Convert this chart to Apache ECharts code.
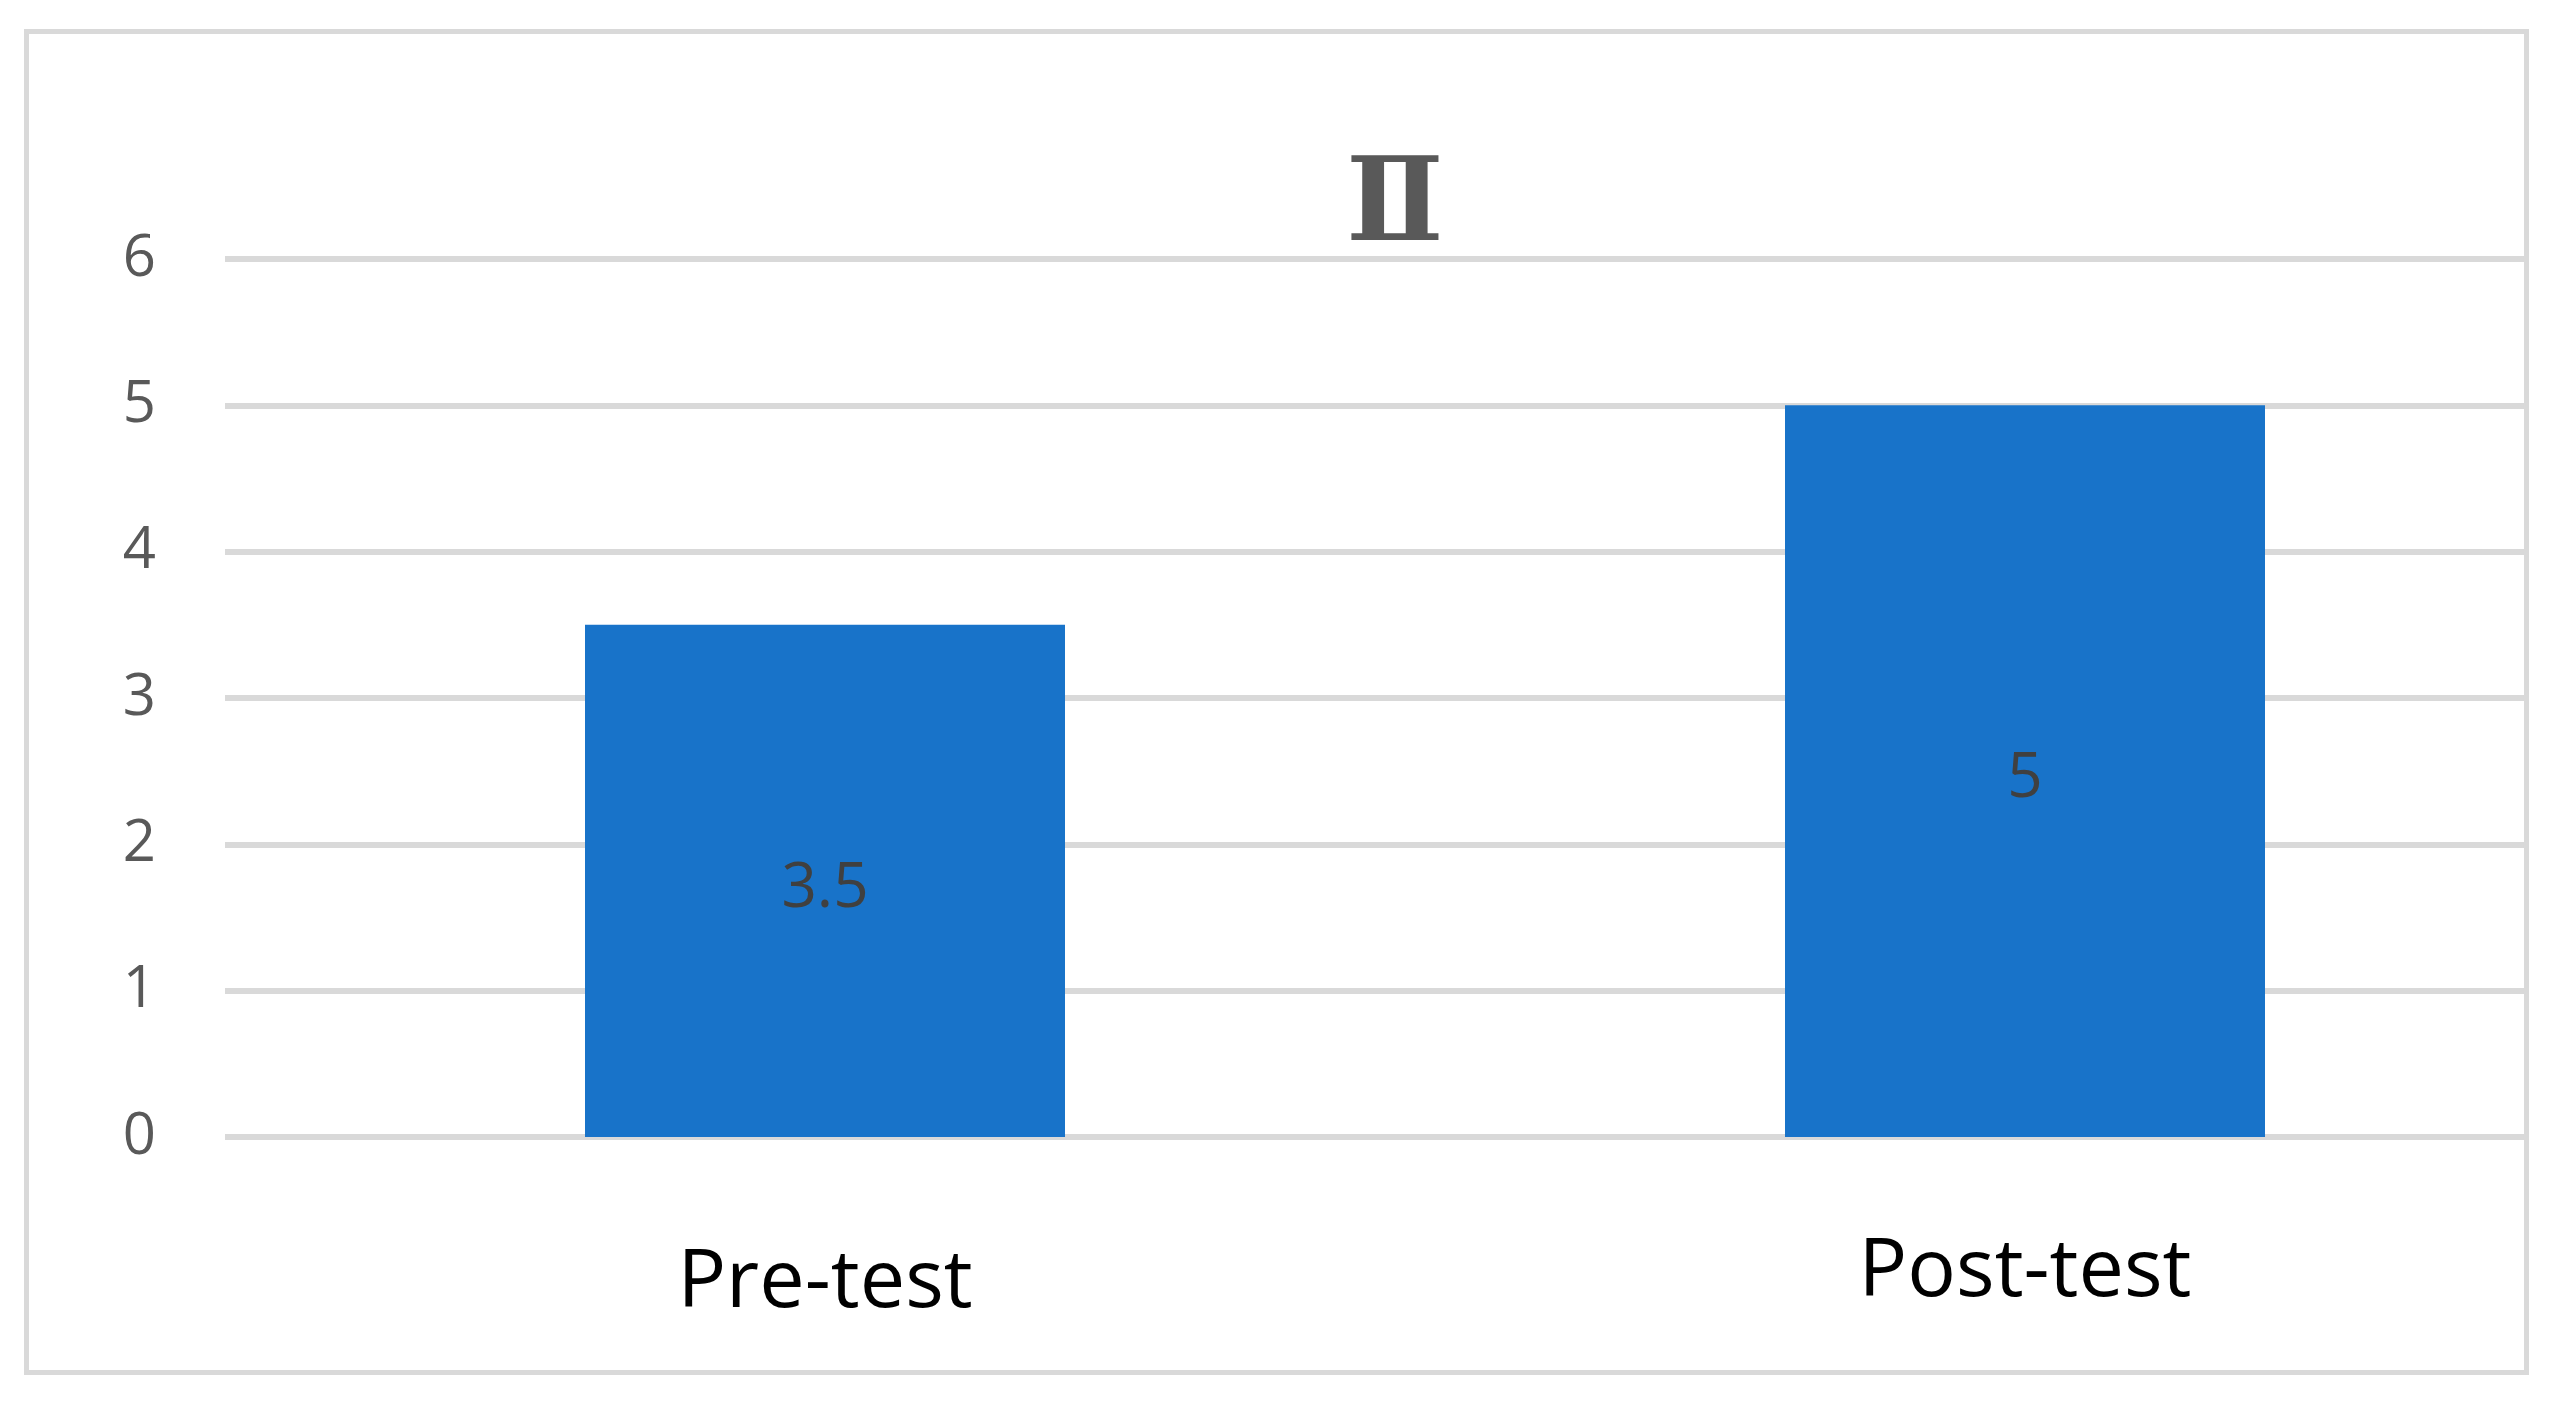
<!DOCTYPE html>
<html>
<head>
<meta charset="utf-8">
<script src="https://cdn.jsdelivr.net/npm/echarts@6/dist/echarts.min.js"></script>
<style>
html,body{margin:0;padding:0;background:#fff;}
#chart{width:2555px;height:1408px;}
</style>
</head>
<body>
<div id="chart"></div>
<script>
const titleText = 'Ⅱ';
const categories = ['Pre-test', 'Post-test'];
const values = [3.5, 5];
const yTicks = [0, 1, 2, 3, 4, 5, 6];

const chart = echarts.init(document.getElementById('chart'));
chart.setOption({
  backgroundColor: '#ffffff',
  animation: false,
  title: {
    text: titleText,
    left: 1341,
    top: 147,
    textStyle: { fontFamily: 'DejaVu Serif', fontSize: 116, fontWeight: 'bold', color: '#595959' }
  },
  grid: { left: 225, width: 2400, top: 259, height: 1137 - 259, outerBoundsMode: 'none', containLabel: false },
  xAxis: {
    type: 'category',
    data: categories,
    axisLine: { show: false },
    axisTick: { show: false },
    axisLabel: {
      fontFamily: 'Open Sans', fontSize: 81, color: '#000000',
      verticalAlign: 'middle', margin: 136,
      formatter: (v, i) => i === 0 ? '{p|' + v + '}' : v,
      rich: { p: { fontFamily: 'Open Sans', fontSize: 81, color: '#000000', padding: [22, 0, 0, 0] } }
    }
  },
  yAxis: {
    type: 'value',
    min: yTicks[0], max: yTicks[yTicks.length - 1], interval: 1,
    axisLine: { show: false },
    axisTick: { show: false },
    splitLine: { lineStyle: { color: '#d9d9d9', width: 6 } },
    axisLabel: { fontFamily: 'Open Sans', fontSize: 58, color: '#595959', margin: 69 }
  },
  series: [{
    type: 'bar',
    data: values,
    barWidth: '40%',
    itemStyle: { color: '#1873C9' },
    label: {
      show: true, position: 'inside', offset: [0, 8],
      fontFamily: 'Open Sans', fontSize: 62, color: '#404040'
    }
  }],
  graphic: [
    { type: 'rect', z: 100, shape: { x: 2529, y: 0, width: 40, height: 1408 }, style: { fill: '#ffffff' } },
    { type: 'rect', z: 101, shape: { x: 26.5, y: 31.5, width: 2500, height: 1341 }, style: { fill: 'none', stroke: '#d9d9d9', lineWidth: 5 } }
  ]
});
</script>
</body>
</html>
